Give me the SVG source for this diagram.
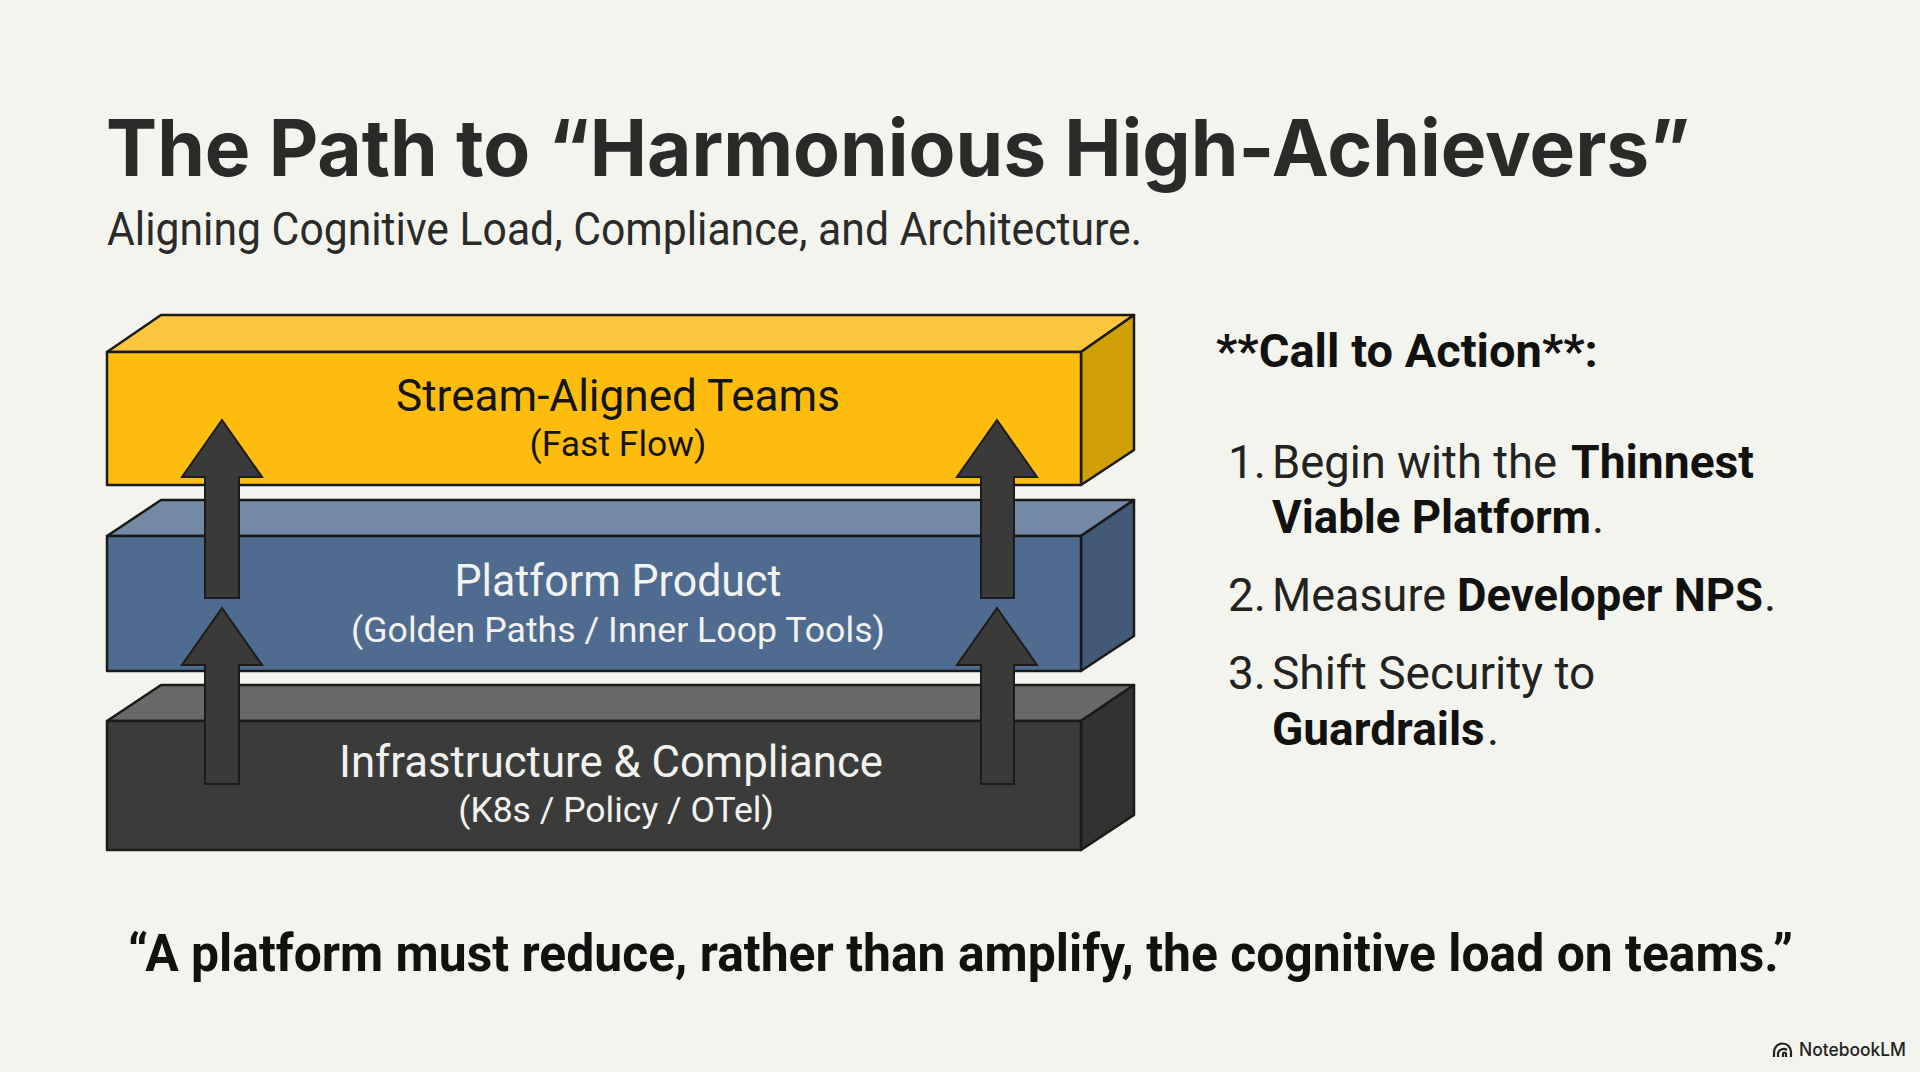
<svg xmlns="http://www.w3.org/2000/svg" width="1920" height="1072" viewBox="0 0 1920 1072">
<style>
text{font-family:Roboto,"Liberation Sans",sans-serif}
.edge{stroke:#1a1a18;stroke-width:2.5;stroke-linejoin:round}
.arrow{fill:#3a3a39;stroke:#1c1c1b;stroke-width:2;stroke-linejoin:miter}
.lab{font-size:44px;text-anchor:middle}
.sub{font-size:35.5px;text-anchor:middle}
.body{font-size:46px;fill:#222220}
.b{font-size:46px;font-weight:700;fill:#111110}
.dark{fill:#141413}
.light{fill:#f2f3f0}
</style>
<rect width="1920" height="1072" fill="#f4f4ef"/>
<text id="title" x="106" y="176" font-size="78" font-weight="700" fill="#2a2b29" style="font-family:Inter,Roboto,sans-serif" textLength="1584" lengthAdjust="spacingAndGlyphs">The Path to “Harmonious High-Achievers”</text>
<text id="subtitle" x="107" y="245" font-size="46" fill="#2a2b29" textLength="1035" lengthAdjust="spacingAndGlyphs">Aligning Cognitive Load, Compliance, and Architecture.</text>
<g id="layer-infrastructure">
<path class="edge" d="M107 721L161 685H1134L1081 721Z" fill="#696967"/>
<path class="edge" d="M1081 721L1134 685V815L1081 850Z" fill="#323331"/>
<rect class="edge" x="107" y="721" width="974" height="129" fill="#3b3c3a"/>
<text class="lab light" x="611" y="777" textLength="544" lengthAdjust="spacingAndGlyphs">Infrastructure &amp; Compliance</text>
<text class="sub light" x="616" y="822">(K8s / Policy / OTel)</text>
</g>
<g id="layer-platform">
<path class="edge" d="M107 536L161 500H1134L1081 536Z" fill="#7489a5"/>
<path class="edge" d="M1081 536L1134 500V636L1081 671Z" fill="#425a78"/>
<rect class="edge" x="107" y="536" width="974" height="135" fill="#4f6b8f"/>
<text class="lab light" x="618" y="596" textLength="327" lengthAdjust="spacingAndGlyphs">Platform Product</text>
<text class="sub light" x="618" y="642" textLength="534" lengthAdjust="spacingAndGlyphs">(Golden Paths / Inner Loop Tools)</text>
</g>
<g id="layer-stream">
<path class="edge" d="M107 352L161 315H1134L1081 352Z" fill="#fcc73f"/>
<path class="edge" d="M1081 352L1134 315V450L1081 485Z" fill="#cf9f07"/>
<rect class="edge" x="107" y="352" width="974" height="133" fill="#febd0e"/>
<text class="lab dark" x="618" y="411" textLength="444" lengthAdjust="spacingAndGlyphs">Stream-Aligned Teams</text>
<text class="sub dark" x="618" y="456">(Fast Flow)</text>
</g>
<g id="connectors">
<path class="arrow" d="M222 420L262 477H239V598H205V477H182Z"/>
<path class="arrow" d="M222 608L262 665H239V784H205V665H182Z"/>
<path class="arrow" d="M997 420L1037 477H1014V598H981V477H957Z"/>
<path class="arrow" d="M997 608L1037 665H1014V784H981V665H957Z"/>
</g>
<g id="call-to-action">
<text x="1216" y="367" font-size="47" font-weight="700" fill="#111110">**Call to Action**:</text>
<text class="body" x="1228" y="478">1.</text>
<text class="body" x="1272" y="478" textLength="285" lengthAdjust="spacingAndGlyphs">Begin with the</text>
<text class="b" x="1571" y="478" textLength="183" lengthAdjust="spacingAndGlyphs">Thinnest</text>
<text class="b" x="1272" y="533" textLength="319" lengthAdjust="spacingAndGlyphs">Viable Platform</text>
<text class="body" x="1592" y="533">.</text>
<text class="body" x="1228" y="611">2.</text>
<text class="body" x="1272" y="611" textLength="174" lengthAdjust="spacingAndGlyphs">Measure</text>
<text class="b" x="1457" y="611" textLength="306" lengthAdjust="spacingAndGlyphs">Developer NPS</text>
<text class="body" x="1764" y="611">.</text>
<text class="body" x="1228" y="689">3.</text>
<text class="body" x="1272" y="689">Shift Security to</text>
<text class="b" x="1272" y="745">Guardrails</text>
<text class="body" x="1487" y="745">.</text>
</g>
<text id="quote" x="128" y="971" font-size="52" font-weight="700" fill="#111110" textLength="1665" lengthAdjust="spacingAndGlyphs">“A platform must reduce, rather than amplify, the cognitive load on teams.”</text>
<g id="notebooklm-badge">
<path d="M1774 1057v-5a8.500 8.500 0 0 1 17 0v5M1778 1057v-4a6 6 0 0 1 9 -3M1783 1057v-3a1.500 1.500 0 0 1 3 0v3" fill="none" stroke="#222" stroke-width="2.200"/>
<text x="1799" y="1056" font-size="18" font-weight="500" fill="#222" style="font-family:Inter,sans-serif" textLength="107" lengthAdjust="spacingAndGlyphs">NotebookLM</text>
</g>
</svg>
